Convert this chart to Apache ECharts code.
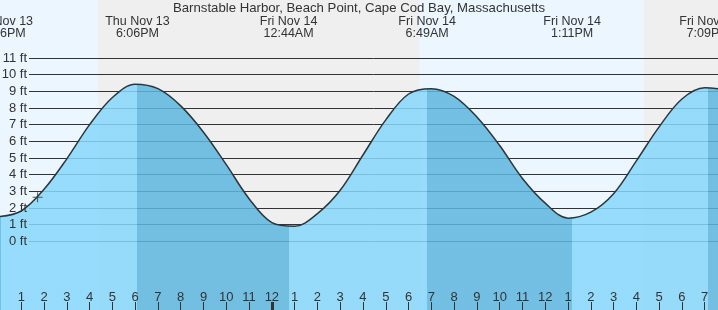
<!DOCTYPE html>
<html>
<head>
<meta charset="utf-8">
<script src="https://cdn.jsdelivr.net/npm/echarts@6/dist/echarts.min.js"></script>
<style>
html,body{margin:0;padding:0;background:#ecf6fe;}
#chart{width:718px;height:310px;}
</style>
</head>
<body>
<div id="chart"></div>
<script>
// ---------- data (hourly tide heights) ----------
const chartTitle = 'Barnstable Harbor, Beach Point, Cape Cod Bay, Massachusetts';

const tideTimes = [
  '2025-11-13 12:00','2025-11-13 13:00','2025-11-13 14:00','2025-11-13 15:00','2025-11-13 16:00',
  '2025-11-13 17:00','2025-11-13 18:00','2025-11-13 19:00','2025-11-13 20:00','2025-11-13 21:00',
  '2025-11-13 22:00','2025-11-13 23:00','2025-11-14 00:00','2025-11-14 01:00','2025-11-14 02:00',
  '2025-11-14 03:00','2025-11-14 04:00','2025-11-14 05:00','2025-11-14 06:00','2025-11-14 07:00',
  '2025-11-14 08:00','2025-11-14 09:00','2025-11-14 10:00','2025-11-14 11:00','2025-11-14 12:00',
  '2025-11-14 13:00','2025-11-14 14:00','2025-11-14 15:00','2025-11-14 16:00','2025-11-14 17:00',
  '2025-11-14 18:00','2025-11-14 19:00','2025-11-14 20:00'
];
const tideFeet = [
  1.48, 1.82, 3.12, 4.95, 7.0,
  8.63, 9.43, 9.16, 8.13, 6.55,
  4.6, 2.56, 1.12, 0.9, 1.66,
  3.06, 5.18, 7.29, 8.84, 9.16,
  8.7, 7.46, 5.75, 3.77, 2.29,
  1.39, 1.75, 2.86, 4.83, 6.87,
  8.54, 9.21, 9.1
];

const extremeTimes = ['2025-11-13 12:06','2025-11-13 18:06','2025-11-14 00:44','2025-11-14 06:49','2025-11-14 13:11','2025-11-14 19:09'];
const extremeKinds = ['low','high','low','high','low','high'];
const extremeDays  = ['Thu Nov 13','Thu Nov 13','Fri Nov 14','Fri Nov 14','Fri Nov 14','Fri Nov 14'];
const extremeClock = ['12:06PM','6:06PM','12:44AM','6:49AM','1:11PM','7:09PM'];

const nightStarts = ['2025-11-13 16:23','2025-11-14 16:20'];
const nightEnds   = ['2025-11-14 06:28','2025-11-15 06:29'];

const nowTime = '2025-11-13 13:43';
const nowFeet = 2.65;

const tickTimes = [
  '2025-11-13 13:00','2025-11-13 14:00','2025-11-13 15:00','2025-11-13 16:00','2025-11-13 17:00',
  '2025-11-13 18:00','2025-11-13 19:00','2025-11-13 20:00','2025-11-13 21:00','2025-11-13 22:00',
  '2025-11-13 23:00','2025-11-14 00:00','2025-11-14 01:00','2025-11-14 02:00','2025-11-14 03:00',
  '2025-11-14 04:00','2025-11-14 05:00','2025-11-14 06:00','2025-11-14 07:00','2025-11-14 08:00',
  '2025-11-14 09:00','2025-11-14 10:00','2025-11-14 11:00','2025-11-14 12:00','2025-11-14 13:00',
  '2025-11-14 14:00','2025-11-14 15:00','2025-11-14 16:00','2025-11-14 17:00','2025-11-14 18:00',
  '2025-11-14 19:00'
];
const tickLabels = ['1','2','3','4','5','6','7','8','9','10','11','12','1','2','3','4','5','6','7','8','9','10','11','12','1','2','3','4','5','6','7'];
const midnightTimes = ['2025-11-14 00:00'];

const feetTicks  = [0,1,2,3,4,5,6,7,8,9,10,11];
const feetLabels = ['0 ft','1 ft','2 ft','3 ft','4 ft','5 ft','6 ft','7 ft','8 ft','9 ft','10 ft','11 ft'];

const viewStartTime = '2025-11-13 12:04';
const viewEndTime   = '2025-11-14 19:35';
const feetMin = -4.12, feetMax = 14.48;

// ---------- helpers ----------
const T0 = Date.UTC(2025, 10, 14, 0, 0);
const toH = s => (Date.parse(s.replace(' ', 'T') + ':00Z') - T0) / 3600000;
const xMin = toH(viewStartTime), xMax = toH(viewEndTime);

const FONT = '"Liberation Sans", Arial, Helvetica, sans-serif';
const INK = '#333333';
const DAY = '#ecf6fe', NIGHT = '#efefef';
const WATER = 'rgba(135,215,251,0.85)';
const WATER_EBB = 'rgba(93,182,223,0.85)';

const tidePoints = tideTimes.map((t, i) => [toH(t), tideFeet[i]]);
const tickH = tickTimes.map(toH);
const extH = extremeTimes.map(toH);
const findIdx = (arr, v) => arr.findIndex(a => Math.abs(a - v) < 1e-6);

// ebb (falling) pieces: from each high to the following low
const pieces = [];
pieces.push({ lt: extH[0], color: extremeKinds[0] === 'low' ? WATER_EBB : WATER });
extH.forEach((h, i) => {
  const p = { gte: h, color: extremeKinds[i] === 'high' ? WATER_EBB : WATER };
  if (i < extH.length - 1) p.lt = extH[i + 1];
  pieces.push(p);
});

const chart = echarts.init(document.getElementById('chart'), null, { renderer: 'canvas' });
const option = {
  animation: false,
  backgroundColor: DAY,
  textStyle: { fontFamily: FONT },
  title: {
    text: chartTitle, left: 'center', top: 0, padding: [2, 0, 0, 0],
    textStyle: { fontSize: 13.2, fontWeight: 'normal', color: INK, fontFamily: FONT }
  },
  grid: [
    { left: 0, right: 0, top: 0, bottom: 0, containLabel: false, outerBoundsMode: 'none' },
    { left: 29, right: 0, top: 58, bottom: 68.67, containLabel: false, outerBoundsMode: 'none' }
  ],
  visualMap: {
    type: 'piecewise', show: false, dimension: 0, seriesIndex: 1, pieces: pieces
  },
  xAxis: [
    {
      gridIndex: 0, type: 'value', position: 'bottom', min: xMin, max: xMax, z: 10,
      axisLine: { show: false, onZero: false }, splitLine: { show: false },
      axisTick: { inside: true, length: 8, customValues: tickH, lineStyle: { color: INK, width: 1 } },
      axisLabel: {
        inside: true, margin: 6.5, customValues: tickH, color: INK, fontSize: 13, fontFamily: FONT,
        showMinLabel: true, showMaxLabel: true, hideOverlap: false,
        formatter: v => { const i = findIdx(tickH, v); return i >= 0 ? tickLabels[i] : ''; }
      }
    },
    {
      gridIndex: 0, type: 'value', position: 'top', min: xMin, max: xMax, z: 10,
      axisLine: { show: false, onZero: false }, axisTick: { show: false }, splitLine: { show: false },
      axisLabel: {
        inside: true, margin: 15, customValues: extH, color: INK, fontSize: 12.5, lineHeight: 12.5,
        fontFamily: FONT, align: 'center', showMinLabel: true, showMaxLabel: true, hideOverlap: false,
        formatter: v => { const i = findIdx(extH, v); return i >= 0 ? extremeDays[i] + '\n' + extremeClock[i] : ''; }
      }
    },
    {
      gridIndex: 0, type: 'value', position: 'bottom', min: xMin, max: xMax, z: 10,
      axisLine: { show: false, onZero: false }, splitLine: { show: false }, axisLabel: { show: false },
      axisTick: { inside: true, length: 8, customValues: midnightTimes.map(toH), lineStyle: { color: INK, width: 3 } }
    },
    { gridIndex: 1, type: 'value', min: xMin, max: xMax, show: false, axisLine: { onZero: false } }
  ],
  yAxis: [
    { gridIndex: 0, type: 'value', min: feetMin, max: feetMax, show: false, axisLine: { onZero: false } },
    {
      gridIndex: 1, type: 'value', min: 0, max: 11, interval: 1, z: 2,
      axisLine: { show: false, onZero: false }, axisTick: { show: false }, axisLabel: { show: false },
      splitLine: { show: true, lineStyle: { color: INK, width: 1 } }
    },
    {
      gridIndex: 1, type: 'value', position: 'left', min: 0, max: 11, interval: 1, z: 10,
      axisLine: { show: false, onZero: false }, axisTick: { show: false }, splitLine: { show: false },
      axisLabel: {
        margin: 2, customValues: feetTicks, color: INK, fontSize: 13, fontFamily: FONT,
        formatter: v => { const i = findIdx(feetTicks, v); return i >= 0 ? feetLabels[i] : ''; }
      }
    }
  ],
  series: [
    {
      name: 'daylight', type: 'line', xAxisIndex: 0, yAxisIndex: 0, data: [], z: 1, silent: true,
      markArea: {
        silent: true, z: 1,
        itemStyle: { color: NIGHT },
        data: nightStarts.map((s, i) => [{ xAxis: toH(s) }, { xAxis: toH(nightEnds[i]) }])
      }
    },
    {
      name: 'water', type: 'line', xAxisIndex: 0, yAxisIndex: 0, data: tidePoints, z: 3,
      smooth: 0.35, showSymbol: false, silent: true,
      lineStyle: { width: 0, opacity: 0 },
      areaStyle: { opacity: 1, origin: 'start' }
    },
    {
      name: 'tide', type: 'line', xAxisIndex: 0, yAxisIndex: 0, data: tidePoints, z: 4,
      smooth: 0.35, showSymbol: false, silent: true,
      lineStyle: { color: INK, width: 1.5 }
    },
    {
      name: 'now', type: 'scatter', xAxisIndex: 0, yAxisIndex: 0, z: 5, silent: true,
      data: [[toH(nowTime), nowFeet]],
      symbol: 'path://M0,4.5H10V5.5H0ZM4.5,0H5.5V10H4.5Z', symbolSize: 10,
      itemStyle: { color: INK }
    }
  ]
};
chart.setOption(option);
</script>
</body>
</html>
